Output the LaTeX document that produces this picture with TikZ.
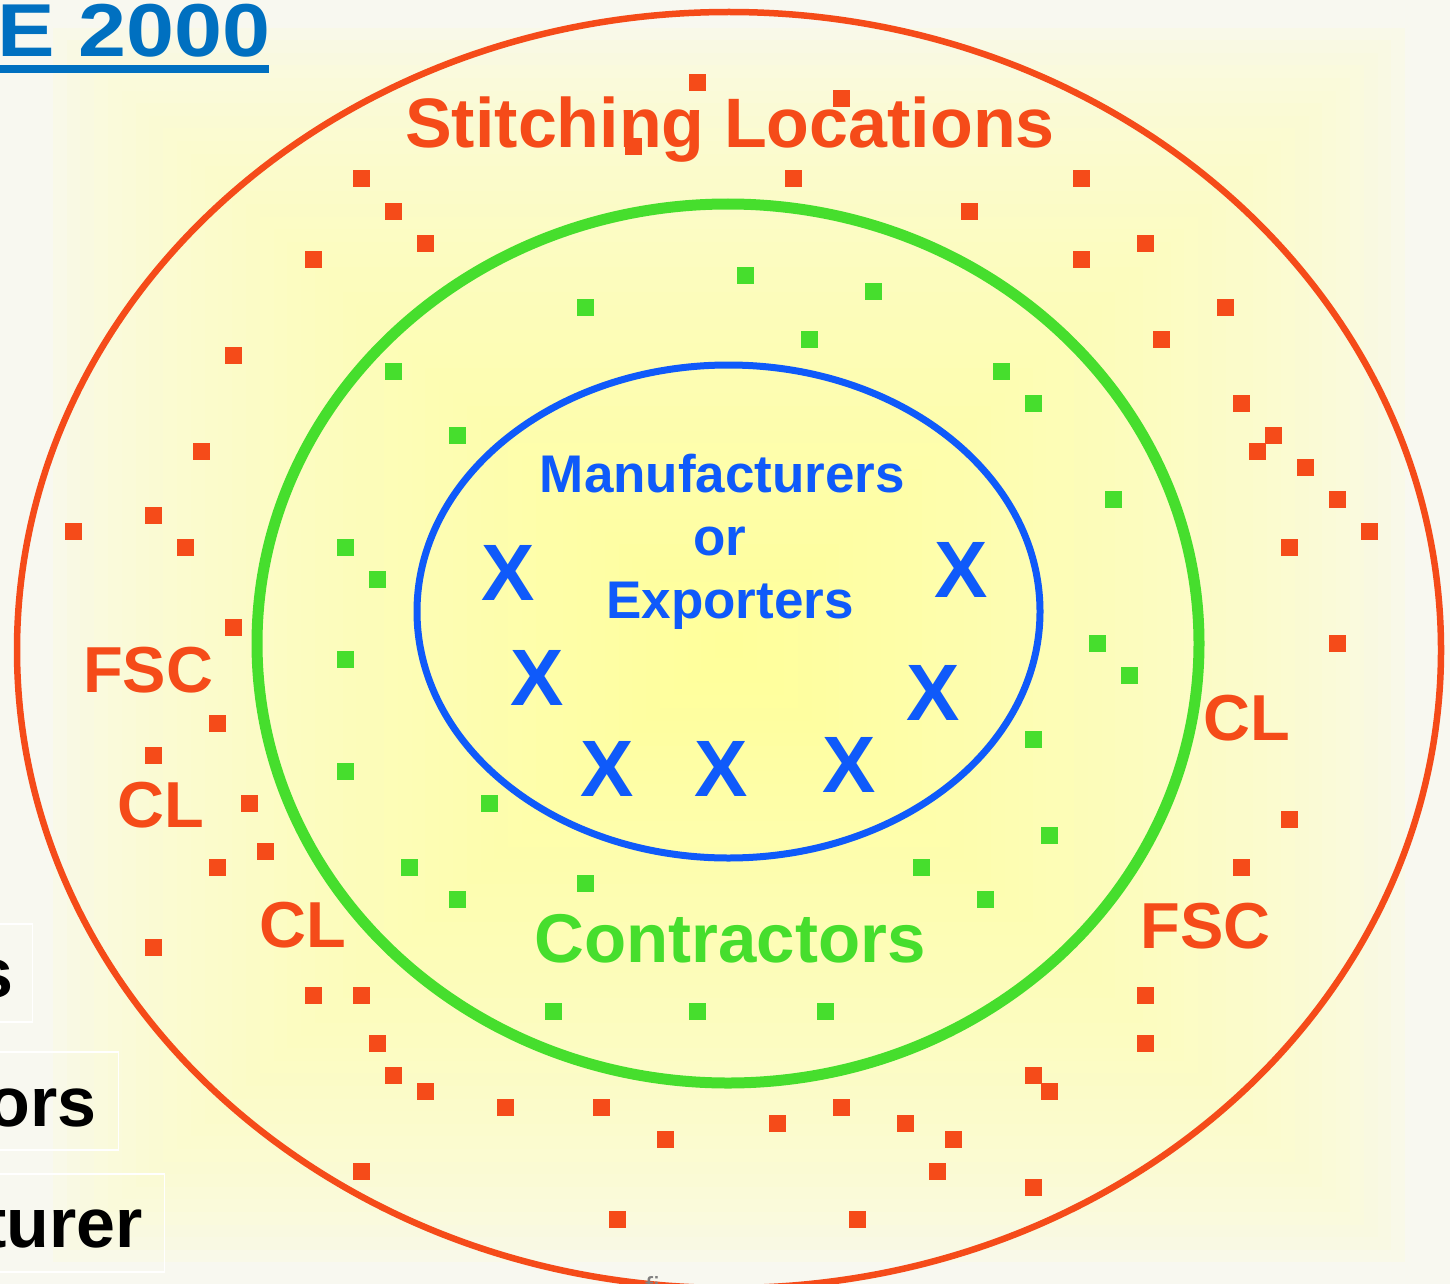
\documentclass[tikz,border=0pt]{standalone}
\usepackage{fontspec}
\setmainfont{Liberation Sans}
\usetikzlibrary{shapes.geometric}
\definecolor{orangeC}{RGB}{245,75,25}
\definecolor{greenC}{RGB}{70,222,45}
\definecolor{blueC}{RGB}{15,90,250}
\definecolor{titleC}{RGB}{0,112,192}
\definecolor{bgC}{RGB}{248,248,240}
\definecolor{yelC}{RGB}{255,255,155}
\definecolor{grayC}{RGB}{128,128,128}
\tikzset{
  osq/.style={fill=orangeC, minimum size=17pt, inner sep=0pt, outer sep=0pt},
  gsq/.style={fill=greenC, minimum size=17pt, inner sep=0pt, outer sep=0pt},
  ring/.style={ellipse, inner sep=0pt, outer sep=0pt},
  lbl/.style={text=orangeC, inner sep=0pt, anchor=base, font=\bfseries\fontsize{65}{70}\selectfont},
  big/.style={inner sep=0pt, anchor=base, font=\bfseries\fontsize{70}{80}\selectfont},
  btxt/.style={text=blueC, inner sep=0pt, anchor=base, font=\bfseries\fontsize{53}{60}\selectfont},
  xmark/.style={text=blueC, inner sep=0pt, anchor=center, font=\bfseries\fontsize{80}{80}\selectfont},
  legbox/.style={draw=white, line width=1.5pt, minimum height=98pt, minimum width=120pt, anchor=north east, inner sep=0pt},
  legtxt/.style={text=black, inner sep=0pt, anchor=base east, font=\bfseries\fontsize{70}{80}\selectfont}
}
\begin{document}
\begin{tikzpicture}[x=1pt,y=-1pt]
\useasboundingbox (0,0) rectangle (1450,1284);
\clip (0,0) rectangle (1450,1284);
% background with rectangular gradient
\fill[bgC] (0,0) rectangle (1450,1284);
\foreach \k in {0,...,49}{
  \pgfmathsetmacro\f{1-\k/50}
  \pgfmathsetmacro\p{100*(\k/49)^0.6}
  \fill[yelC!\p!bgC] ({729-690*\f},{645-630*\f}) rectangle ({729+690*\f},{645+630*\f});
}
% rings
\node[ring, draw=orangeC, line width=6.5pt, minimum width=1424pt, minimum height=1276pt] (outer) at (729,650) {};
\node[ring, draw=greenC, line width=11pt, minimum width=942pt, minimum height=879pt] (middle) at (728,643.5) {};
\node[ring, draw=blueC, line width=7pt, minimum width=623pt, minimum height=493pt] (inner) at (728.5,611.5) {};
% orange squares
\foreach \x/\y [count=\i] in {697/83,841/99,633/147,361/179,793/179,1081/179,393/211,969/211,425/243,1145/243,313/259,1081/259,1225/307,1161/339,233/355,1241/403,1273/435,1257/451,201/451,1305/467,1337/499,73/531,153/515,1369/531,185/547,1289/547,233/627,1337/643,217/723,153/755,249/803,1289/819,265/851,217/867,1241/867,153/947,313/995,361/995,1145/995,377/1043,1145/1043,393/1075,1033/1075,425/1091,1049/1091,505/1107,601/1107,841/1107,777/1123,905/1123,665/1139,953/1139,937/1171,361/1171,1033/1187,617/1219,857/1219}
  \node[osq] (o\i) at (\x,\y) {};
% green squares
\foreach \x/\y [count=\i] in {745/275,585/307,873/291,809/339,393/371,1001/371,1033/403,457/435,1113/499,345/547,377/579,1097/643,1129/675,345/659,1033/739,345/771,489/803,1049/835,409/867,921/867,457/899,585/883,985/899,553/1011,697/1011,825/1011}
  \node[gsq] (g\i) at (\x,\y) {};
% ring titles
\node[big, text=orangeC] (stitch) at (730,148) {Stitching Locations};
\node[big, text=greenC, font=\bfseries\fontsize{69}{80}\selectfont] (contr) at (730,962) {Contractors};
\node[btxt] (manu) at (722.5,492) {Manufacturers};
\node[btxt] (or) at (720,555) {or};
\node[btxt] (expo) at (730,618) {Exporters};
% X marks
\node[xmark] (x1) at (508.5,572.5) {X};
\node[xmark] (x2) at (961,570) {X};
\node[xmark] (x3) at (537,678) {X};
\node[xmark] (x4) at (933,693) {X};
\node[xmark] (x5) at (607,769) {X};
\node[xmark] (x6) at (721,769) {X};
\node[xmark] (x7) at (849,765) {X};
% FSC / CL labels
\node[lbl] (fscL) at (148,692) {FSC};
\node[lbl] (clL) at (161,827) {CL};
\node[lbl] (clB) at (302.5,947) {CL};
\node[lbl] (clR) at (1246.5,740) {CL};
\node[lbl] (fscR) at (1205.5,948) {FSC};
% title
\node[inner sep=0pt, anchor=base west, text=titleC, font=\bfseries\fontsize{75}{80}\selectfont] (title) at (-3,57) {\scalebox{1.15}[1]{E 2000}};
\fill[titleC] (0,65) rectangle (269,73);
% legend boxes
\node[legbox] (b1) at (33,923) {};
\node[legbox] (b2) at (119,1051) {};
\node[legbox, minimum width=200pt] (b3) at (165,1173) {};
\node[legtxt] (t1) at (14,997) {s};
\node[legtxt] (t2) at (97,1126) {ors};
\node[legtxt] (t3) at (143,1247) {turer};
% footer fragment
\node[inner sep=0pt, anchor=base west, text=grayC, font=\fontsize{29}{32}\selectfont] (foot) at (645,1297) {fi};
\end{tikzpicture}
\end{document}
